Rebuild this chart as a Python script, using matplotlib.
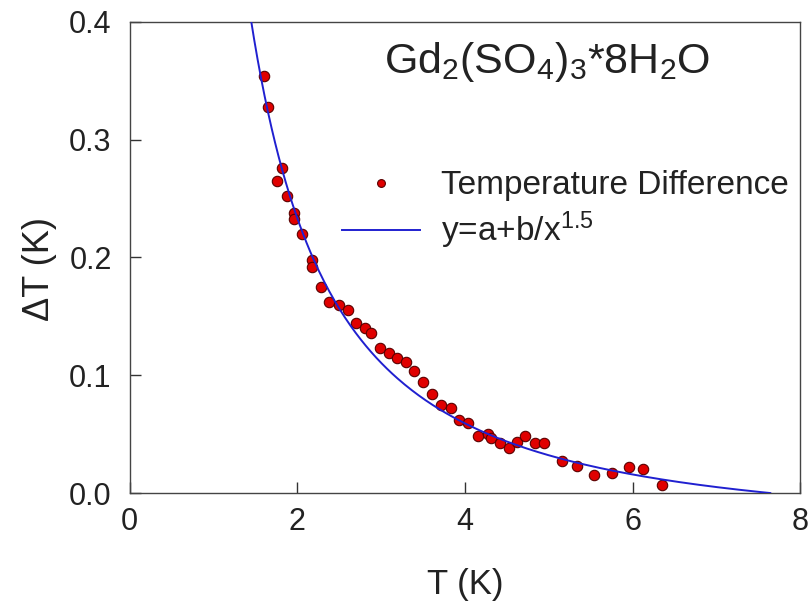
import numpy as np
import matplotlib
matplotlib.use("Agg")
import matplotlib.pyplot as plt

plt.rcParams['font.family'] = ['Liberation Sans', 'DejaVu Sans']
plt.rcParams['mathtext.default'] = 'regular'

# measured temperature difference
temp = [1.60, 1.65, 1.76, 1.82, 1.87, 1.96, 1.96, 2.06, 2.17, 2.17,
        2.28, 2.38, 2.50, 2.60, 2.70, 2.80, 2.88, 2.98, 3.09, 3.19,
        3.30, 3.39, 3.50, 3.60, 3.71, 3.83, 3.93, 4.04, 4.15, 4.27,
        4.31, 4.42, 4.52, 4.62, 4.72, 4.83, 4.94, 5.16, 5.34, 5.54,
        5.75, 5.95, 6.12, 6.35]
delta_t = [0.354, 0.328, 0.265, 0.276, 0.252, 0.238, 0.233, 0.220, 0.198, 0.192,
           0.175, 0.162, 0.160, 0.155, 0.144, 0.140, 0.136, 0.123, 0.119, 0.115,
           0.1115, 0.104, 0.0945, 0.084, 0.075, 0.072, 0.062, 0.0594, 0.0488, 0.050,
           0.0467, 0.0422, 0.038, 0.0436, 0.0484, 0.0427, 0.0427, 0.0274, 0.0229, 0.0153,
           0.0172, 0.0223, 0.0201, 0.0068]

# fit y = a + b/x^1.5
fit_a = -0.036
fit_b = 0.761
fit_range = (1.40, 7.64)

fig = plt.figure(figsize=(8.11, 6.08), dpi=100)
ax = fig.add_axes([0.160, 0.189, 0.827, 0.775])

xf = np.linspace(fit_range[0], fit_range[1], 300)
ax.plot(temp, delta_t, 'o', color='#e00000', markeredgecolor='#5a0000',
        markeredgewidth=0.8, markersize=7.5, label='Temperature Difference', zorder=2)
ax.plot(xf, fit_a + fit_b / xf**1.5, color='#2020d0', lw=1.4,
        label='y=a+b/x$^{1.5}$', zorder=3)

ax.set_xlim(0, 8)
ax.set_ylim(0, 0.4)
ax.set_xticks([0, 2, 4, 6, 8])
ax.set_yticks([0.0, 0.1, 0.2, 0.3, 0.4])
ax.set_yticklabels(['0.0', '0.1', '0.2', '0.3', '0.4'])
ax.tick_params(direction='in', length=8, width=1, labelsize=22, colors='#333333',
               labelcolor='#222222')
ax.tick_params(axis='y', pad=13)
ax.tick_params(axis='x', pad=10)
for s in ax.spines.values():
    s.set_color('#444444')
    s.set_linewidth(1.0)

ax.set_xlabel('T (K)', fontsize=25, color='#222222')
ax.set_ylabel('ΔT (K)', fontsize=26, color='#222222')
ax.xaxis.set_label_coords(0.5, -0.158)
ax.yaxis.set_label_coords(-0.108, 0.475)

ax.text(0.623, 0.892, 'Gd$_2$(SO$_4$)$_3$*8H$_2$O', transform=ax.transAxes,
        ha='center', va='baseline', fontsize=31, color='#222222')

ax.legend(loc='upper left', bbox_to_anchor=(0.316, 0.685), frameon=False,
          borderpad=0, borderaxespad=0, handlelength=2.35, handletextpad=0.62,
          labelspacing=0.25, markerscale=0.75, fontsize=24, labelcolor='#222222')

fig.savefig('out.png', dpi=100)
